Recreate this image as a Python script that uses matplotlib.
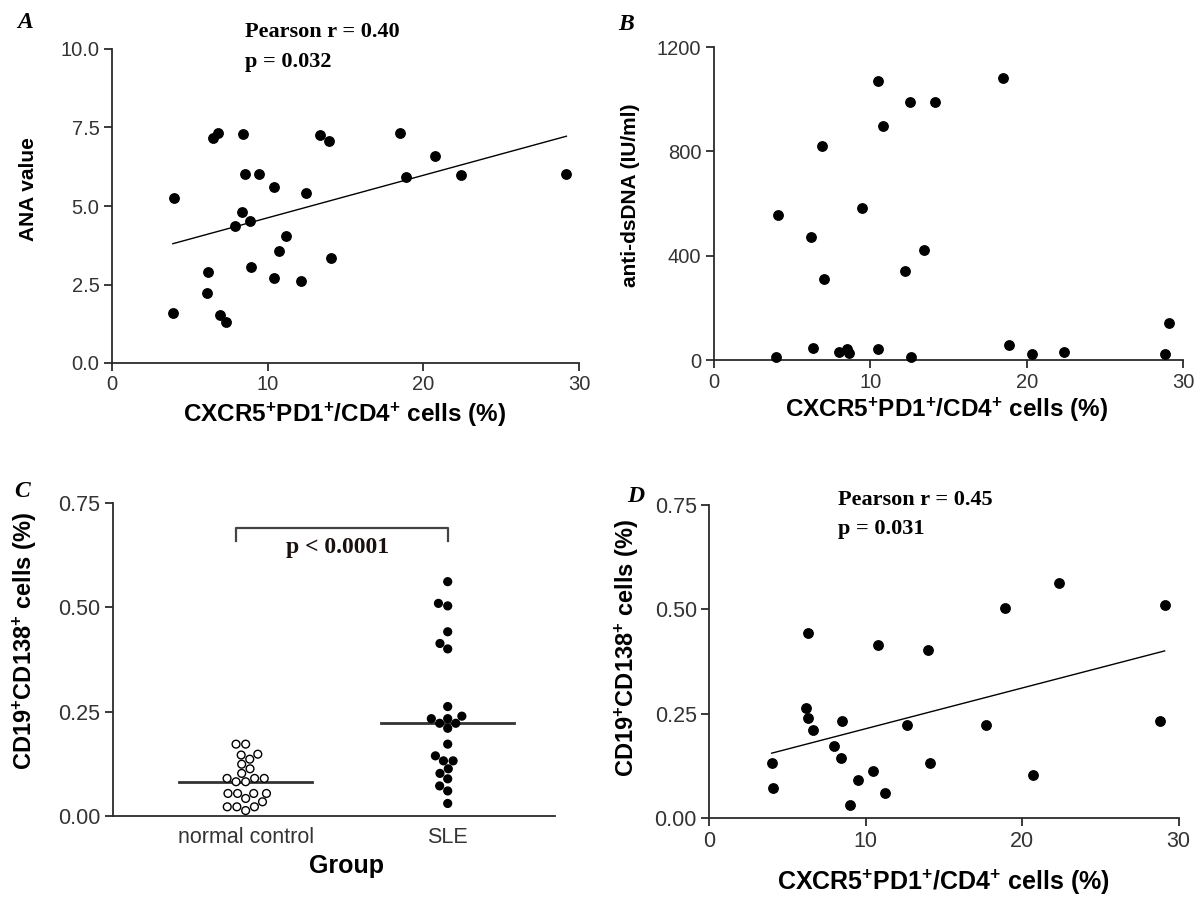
import matplotlib
matplotlib.use('Agg')
import matplotlib.pyplot as plt
import matplotlib.ticker as mticker
import numpy as np
import pandas as pd
import seaborn as sns

# ---------------- data ----------------
# Panel A: CXCR5+PD1+/CD4+ (%) vs ANA value
a_x = [3.99, 6.48, 6.78, 8.41, 13.33, 13.95, 18.48, 20.73, 8.52, 9.44, 18.89, 22.41, 29.19,
       10.41, 12.45, 8.33, 8.84, 7.92, 11.16, 10.73, 14.06, 8.93, 6.16, 10.43, 12.13, 6.10,
       3.91, 6.91, 7.32]
a_y = [5.26, 7.17, 7.31, 7.28, 7.25, 7.08, 7.33, 6.58, 6.02, 6.02, 5.93, 5.98, 6.02,
       5.62, 5.42, 4.81, 4.51, 4.36, 4.05, 3.56, 3.35, 3.06, 2.89, 2.71, 2.60, 2.24,
       1.60, 1.54, 1.30]
a_fit = (0.1354, 3.27)          # slope, intercept of the drawn regression line

# Panel B: CXCR5+PD1+/CD4+ (%) vs anti-dsDNA (IU/ml)
b_x = [10.51, 18.50, 12.51, 14.11, 10.79, 6.93, 4.09, 6.22, 9.48, 13.41, 12.23, 7.01,
       29.11, 6.31, 18.90, 7.99, 8.48, 8.61, 10.51, 3.98, 12.60, 20.31, 22.42, 28.82]
b_y = [1068, 1080, 990, 990, 899, 821, 556, 473, 581, 420, 342, 311,
       143, 46, 59, 29, 42, 28, 41, 10, 10, 23, 29, 23]

# Panel C: CD19+CD138+ (%) by group
groups = ['normal control', 'SLE']
nc_vals = [0.172, 0.172, 0.148, 0.146, 0.136, 0.124, 0.113,
           0.102, 0.090, 0.090, 0.090, 0.082, 0.082,
           0.054, 0.054, 0.054, 0.054, 0.042,
           0.034, 0.022, 0.022, 0.022, 0.013]
sle_vals = [0.561, 0.509, 0.503, 0.441, 0.413, 0.400, 0.262, 0.233, 0.239, 0.233,
            0.222, 0.210, 0.222, 0.172, 0.132, 0.132, 0.144, 0.113, 0.089, 0.102,
            0.072, 0.060, 0.030]

# Panel D: CXCR5+PD1+/CD4+ (%) vs CD19+CD138+ (%)
d_x = [22.36, 18.89, 29.10, 6.29, 10.80, 13.99, 6.20, 6.29, 6.61, 8.50, 12.61, 17.68,
       28.80, 7.99, 8.40, 3.99, 14.08, 10.48, 9.50, 20.70, 4.09, 11.21, 9.01]
d_y = [0.564, 0.504, 0.511, 0.444, 0.414, 0.402, 0.263, 0.241, 0.211, 0.234, 0.223, 0.223,
       0.234, 0.174, 0.144, 0.133, 0.133, 0.114, 0.092, 0.104, 0.073, 0.061, 0.031]
d_fit = (0.00975, 0.117)

xticks_pct = [0, 10, 20, 30]
a_yticks = [0.0, 2.5, 5.0, 7.5, 10.0]
b_yticks = [0, 400, 800, 1200]
cd_yticks = [0.00, 0.25, 0.50, 0.75]

# ---------------- style ----------------
plt.rcParams['font.family'] = ['Liberation Sans', 'DejaVu Sans']
plt.rcParams['mathtext.fontset'] = 'custom'
plt.rcParams['mathtext.rm'] = 'Liberation Sans'
plt.rcParams['mathtext.bf'] = 'Liberation Sans:bold'
plt.rcParams['mathtext.it'] = 'Liberation Sans:italic'

W, H = 1197, 902
fig = plt.figure(figsize=(W / 100, H / 100), dpi=100)
fig.patch.set_facecolor('white')

AXC = '#2b2b2b'
TICKC = '#333333'


def axes_px(l, t, r, b, tick_fs):
    ax = fig.add_axes([l / W, 1 - b / H, (r - l) / W, (b - t) / H])
    ax.patch.set_visible(False)
    for s in ['top', 'right']:
        ax.spines[s].set_visible(False)
    for s in ['left', 'bottom']:
        ax.spines[s].set_linewidth(1.3)
        ax.spines[s].set_color(AXC)
    ax.tick_params(direction='out', length=5.5, width=1.3, color=AXC,
                   labelsize=tick_fs, labelcolor=TICKC, pad=3.5)
    ax._px = (l, t, r, b)
    return ax


def label_at(ax, which, px, py):
    l, t, r, b = ax._px
    fx = (px - l) / (r - l)
    fy = (b - py) / (b - t)
    if which == 'x':
        ax.xaxis.set_label_coords(fx, fy)
        ax.xaxis.label.set_va('center')
    else:
        ax.yaxis.set_label_coords(fx, fy)
        ax.yaxis.label.set_va('center')


xlab = r'CXCR5$^{\mathbf{+}}$PD1$^{\mathbf{+}}$/CD4$^{\mathbf{+}}$ cells (%)'
cdlab = r'CD19$^{\mathbf{+}}$CD138$^{\mathbf{+}}$ cells (%)'
TOP_XFS, TOP_YFS, TOP_TFS = 17.5, 15.0, 14.5
BOT_XFS, BOT_YFS, BOT_TFS = 18.0, 17.0, 15.5
serif_bold = dict(family='Liberation Serif', fontweight='bold')

# ---------------- Panel A ----------------
axA = axes_px(112, 49, 579, 363, TOP_TFS)
axA.scatter(a_x, a_y, s=46, color='black', zorder=3, clip_on=False)
fx = np.array([min(a_x), max(a_x)])
axA.plot(fx, a_fit[0] * fx + a_fit[1], color='black', lw=1.0)
axA.set_xlim(0, 30)
axA.set_ylim(0, 10)
axA.set_xticks(xticks_pct)
axA.set_yticks(a_yticks)
axA.yaxis.set_major_formatter(mticker.FormatStrFormatter('%.1f'))
axA.set_xlabel(xlab, fontsize=TOP_XFS, fontweight='bold')
axA.set_ylabel('ANA value', fontsize=TOP_YFS, fontweight='bold')
label_at(axA, 'x', 344, 415)
label_at(axA, 'y', 28, 189)
fig.text(245 / W, 1 - 37 / H, 'Pearson r = 0.40', fontsize=16, va='baseline', **serif_bold)
fig.text(245 / W, 1 - 67 / H, 'p = 0.032', fontsize=16, va='baseline', **serif_bold)
fig.text(25 / W, 1 - 22 / H, 'A', fontsize=17, ha='center', va='center',
         family='Liberation Serif', fontweight='bold', style='italic')

# ---------------- Panel B ----------------
axB = axes_px(714, 47, 1183, 360, TOP_TFS)
axB.scatter(b_x, b_y, s=46, color='black', zorder=3, clip_on=False)
axB.set_xlim(0, 30)
axB.set_ylim(0, 1200)
axB.set_xticks(xticks_pct)
axB.set_yticks(b_yticks)
axB.set_xlabel(xlab, fontsize=TOP_XFS, fontweight='bold')
axB.set_ylabel('anti-dsDNA (IU/ml)', fontsize=TOP_YFS, fontweight='bold')
label_at(axB, 'x', 946, 410)
label_at(axB, 'y', 631, 195)
fig.text(626 / W, 1 - 25 / H, 'B', fontsize=17, ha='center', va='center',
         family='Liberation Serif', fontweight='bold', style='italic')

# ---------------- Panel C ----------------
axC = axes_px(112.7, 502.7, 555, 816, BOT_TFS)
df = pd.DataFrame({'group': [groups[0]] * len(nc_vals) + [groups[1]] * len(sle_vals),
                   'value': nc_vals + sle_vals})
sns.swarmplot(data=df, x='group', y='value', hue='group', order=groups,
              palette={groups[0]: 'white', groups[1]: 'black'},
              size=5.6, edgecolor='black', linewidth=1.0, ax=axC, legend=False,
              clip_on=False, zorder=3)
for i, vals in enumerate([nc_vals, sle_vals]):
    m = np.median(vals)
    axC.plot([i - 0.33, i + 0.33], [m, m], color='#333333', lw=2.0, zorder=2)
axC.plot([-0.05, -0.05, 1.0, 1.0], [0.658, 0.689, 0.689, 0.658], color='#444444', lw=1.6)
axC.text(0.455, 0.6285, 'p < 0.0001', fontsize=17, ha='center', va='baseline',
         color='#1a1010', **serif_bold)
axC.set_xlim(-0.658, 1.531)
axC.set_ylim(0, 0.75)
axC.set_yticks(cd_yticks)
axC.yaxis.set_major_formatter(mticker.FormatStrFormatter('%.2f'))
axC.set_xticks([0, 1])
axC.set_xticklabels(groups)
axC.tick_params(axis='x', length=0, pad=8, labelsize=BOT_TFS)
axC.set_xlabel('Group', fontsize=BOT_XFS, fontweight='bold')
axC.set_ylabel(cdlab, fontsize=BOT_YFS, fontweight='bold')
label_at(axC, 'x', 347, 866)
label_at(axC, 'y', 25, 641)
fig.text(22 / W, 1 - 492 / H, 'C', fontsize=17, ha='center', va='center',
         family='Liberation Serif', fontweight='bold', style='italic')

# ---------------- Panel D ----------------
axD = axes_px(709.3, 505, 1178.7, 818.3, BOT_TFS)
axD.scatter(d_x, d_y, s=46, color='black', zorder=3, clip_on=False)
fx = np.array([min(d_x), max(d_x)])
axD.plot(fx, d_fit[0] * fx + d_fit[1], color='black', lw=1.0)
axD.set_xlim(0, 30)
axD.set_ylim(0, 0.75)
axD.set_xticks(xticks_pct)
axD.set_yticks(cd_yticks)
axD.yaxis.set_major_formatter(mticker.FormatStrFormatter('%.2f'))
axD.set_xlabel(xlab, fontsize=BOT_XFS, fontweight='bold')
axD.set_ylabel(cdlab, fontsize=BOT_YFS, fontweight='bold')
label_at(axD, 'x', 944, 882)
label_at(axD, 'y', 627, 648)
fig.text(838 / W, 1 - 505 / H, 'Pearson r = 0.45', fontsize=16, va='baseline', **serif_bold)
fig.text(838 / W, 1 - 534 / H, 'p = 0.031', fontsize=16, va='baseline', **serif_bold)
fig.text(636 / W, 1 - 497 / H, 'D', fontsize=17, ha='center', va='center',
         family='Liberation Serif', fontweight='bold', style='italic')

fig.savefig('out.png', dpi=100, facecolor='white')
